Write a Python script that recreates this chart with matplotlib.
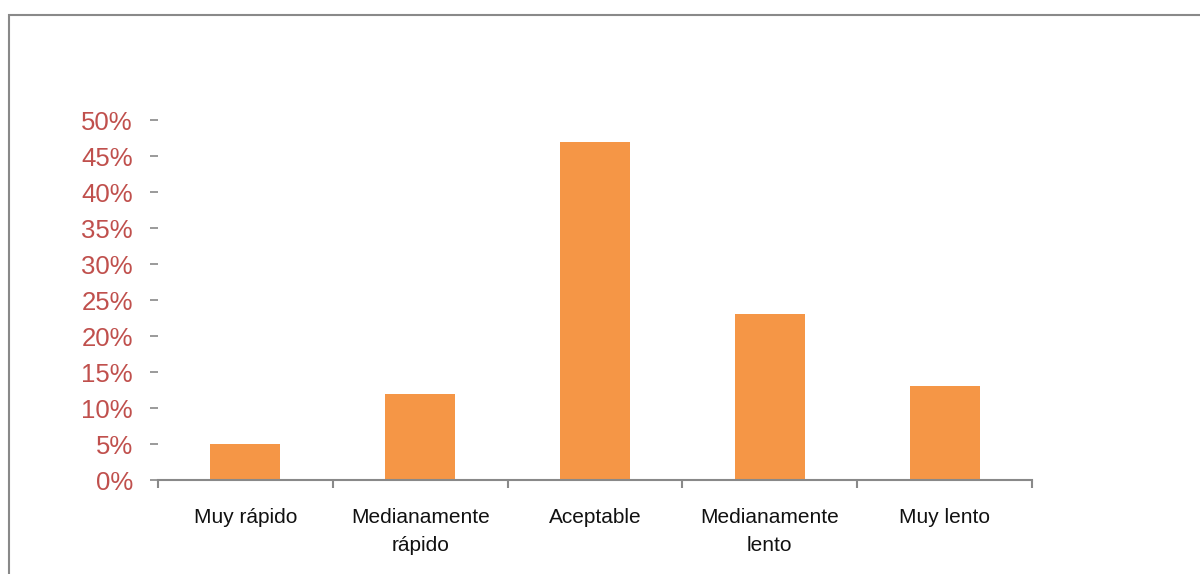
import matplotlib.pyplot as plt
from matplotlib.patches import Rectangle
from matplotlib.ticker import FixedLocator, FuncFormatter

categorias = ["Muy rápido", "Medianamente\nrápido", "Aceptable", "Medianamente\nlento", "Muy lento"]
porcentajes = [0.05, 0.12, 0.47, 0.23, 0.13]
yticks = [0.0, 0.05, 0.10, 0.15, 0.20, 0.25, 0.30, 0.35, 0.40, 0.45, 0.50]

naranja = "#F59646"
rojo = "#C0504D"
gris = "#898989"

plt.rcParams["font.family"] = ["Liberation Sans", "DejaVu Sans"]

fig = plt.figure(figsize=(12, 5.74), dpi=100)
# marco gris del grafico
fig.patches.append(Rectangle((9 / 1200, -0.1), 1.2, (574 - 15) / 574 + 0.1,
                             transform=fig.transFigure, fill=False,
                             edgecolor=gris, linewidth=1.5))

ax = fig.add_axes([158 / 1200, 94 / 574, (1032 - 158) / 1200, 360 / 574])
x = list(range(len(categorias)))
ax.bar(x, porcentajes, width=0.4, color=naranja)

ax.set_xlim(-0.5, len(categorias) - 0.5)
ax.set_ylim(0, 0.5)

for s in ["top", "right", "left"]:
    ax.spines[s].set_visible(False)
ax.spines["bottom"].set_color(gris)
ax.spines["bottom"].set_linewidth(1.5)

ax.set_yticks(yticks)
ax.yaxis.set_major_formatter(FuncFormatter(lambda v, p: f"{v * 100:.0f}%"))
ax.tick_params(axis="y", colors=gris, length=6, width=1.2, pad=12,
               labelsize=18.5, labelcolor=rojo)

ax.set_xticks(x)
ax.set_xticklabels(categorias, fontsize=15, color="#111111", linespacing=1.6)
ax.tick_params(axis="x", which="major", length=0, pad=20)
ax.xaxis.set_minor_locator(FixedLocator([i - 0.5 for i in range(len(categorias) + 1)]))
ax.tick_params(axis="x", which="minor", length=6, width=1.5, color=gris)

fig.savefig("out.png", dpi=100)
